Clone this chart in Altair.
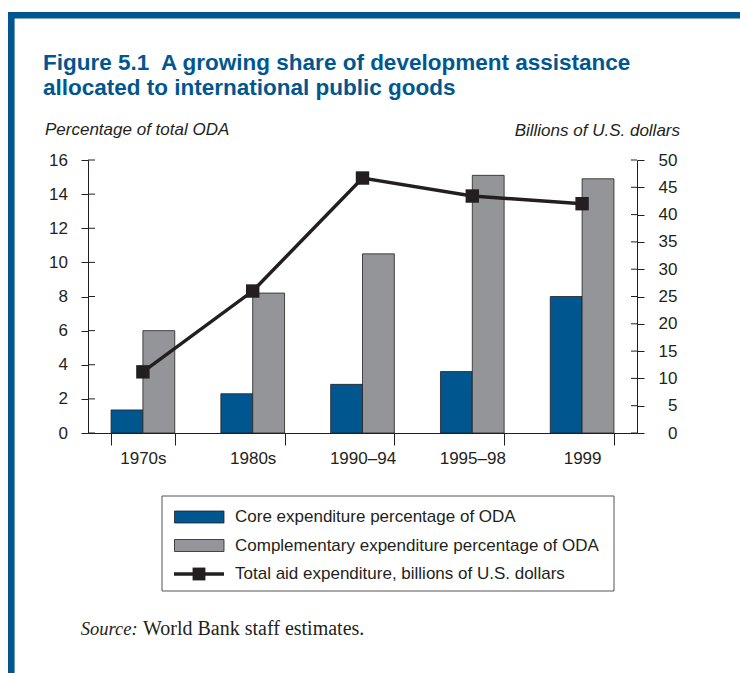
import altair as alt
import pandas as pd

# ---- data -------------------------------------------------------------
periods = ["1970s", "1980s", "1990–94", "1995–98", "1999"]
core_pct = [1.35, 2.3, 2.85, 3.6, 8.0]        # core expenditure, % of ODA
comp_pct = [6.0, 8.2, 10.5, 15.1, 14.9]       # complementary expenditure, % of ODA
total_bn = [11.2, 26.0, 46.7, 43.4, 42.0]     # total aid expenditure, US$ billions

series_names = [
    "Core expenditure percentage of ODA",
    "Complementary expenditure percentage of ODA",
]
line_name = "Total aid expenditure, billions of U.S. dollars"
left_ticks = list(range(0, 17, 2))
right_ticks = list(range(0, 51, 5))

title_lines = [
    "Figure 5.1\u00a0 A growing share of development assistance",
    "allocated to international public goods",
]
left_title = "Percentage of total ODA"
right_title = "Billions of U.S. dollars"

# ---- style ------------------------------------------------------------
W, H = 549, 273
BLUE = "#00578f"
GRAY = "#939598"
INK = "#231f20"
SANS = "Liberation Sans"
SERIF = "Liberation Serif"
FS = 17  # body text size

bars_df = pd.DataFrame({
    "period": periods * 2,
    "series": [series_names[0]] * len(periods) + [series_names[1]] * len(periods),
    "pct": core_pct + comp_pct,
})
line_df = pd.DataFrame({"period": periods, "total": total_bn})

x_enc = alt.X(
    "period:N", sort=periods, title=None,
    scale=alt.Scale(paddingInner=0.42, paddingOuter=0.21),
    axis=alt.Axis(tickBand="extent", tickSize=12, labelPadding=5, labelAngle=0),
)

left_axis = alt.Axis(values=left_ticks, orient="left", tickSize=7,
                     labelPadding=13.5, title=None)
right_axis = alt.Axis(values=right_ticks, orient="right", tickSize=7,
                      labelPadding=33, labelAlign="right", title=None)
left_scale = alt.Scale(domain=[0, 16], nice=False)
right_scale = alt.Scale(domain=[0, 50], nice=False)

bars = alt.Chart(bars_df).mark_bar(stroke=INK, strokeWidth=0.8).encode(
    x=x_enc,
    xOffset=alt.XOffset("series:N", sort=series_names),
    y=alt.Y("pct:Q", scale=left_scale, axis=left_axis),
    color=alt.Color("series:N", scale=alt.Scale(domain=series_names, range=[BLUE, GRAY]),
                    legend=None),
)

# inner half of the crossing ticks on the left axis
left_inner = alt.Chart(pd.DataFrame({"pct": left_ticks})).mark_rule(
    color=INK, strokeWidth=1
).encode(
    y=alt.Y("pct:Q", scale=left_scale, axis=left_axis),
    x=alt.value(0), x2=alt.value(7),
)

line = alt.Chart(line_df).mark_line(color=INK, strokeWidth=3.5).encode(
    x=x_enc,
    y=alt.Y("total:Q", scale=right_scale, axis=right_axis),
)
points = alt.Chart(line_df).mark_point(
    shape="square", filled=True, size=180, color=INK, opacity=1
).encode(
    x=x_enc,
    y=alt.Y("total:Q", scale=right_scale, axis=right_axis),
)
# inner half of the crossing ticks on the right axis
right_inner = alt.Chart(pd.DataFrame({"total": right_ticks})).mark_rule(
    color=INK, strokeWidth=1
).encode(
    y=alt.Y("total:Q", scale=right_scale, axis=right_axis),
    x=alt.value(W - 6), x2=alt.value(W),
)


def text(t, x, y, **kw):
    return alt.Chart(pd.DataFrame({"t": [t]})).mark_text(**kw).encode(
        text="t:N", x=alt.value(x), y=alt.value(y)
    )


def one_row():
    return alt.Chart(pd.DataFrame({"k": [0]}))


decor = []
# frame: blue rules along the top and left edge
decor.append(one_row().mark_rule(color=BLUE, strokeWidth=6.5).encode(
    x=alt.value(-80), x2=alt.value(652), y=alt.value(-144.8)))
decor.append(one_row().mark_rule(color=BLUE, strokeWidth=6.6).encode(
    x=alt.value(-76.7), y=alt.value(-148), y2=alt.value(513)))

# title
for i, t in enumerate(title_lines):
    decor.append(text(t, -45, -90 + 24.5 * i, align="left", baseline="alphabetic",
                      font=SANS, fontSize=22.5, fontWeight="bold", color=BLUE))

# axis titles
decor.append(text(left_title, -43, -25, align="left", baseline="alphabetic",
                  font=SANS, fontSize=FS, fontStyle="italic", color=INK))
decor.append(text(right_title, 592, -24, align="right", baseline="alphabetic",
                  font=SANS, fontSize=FS, fontStyle="italic", color=INK))

# legend box
decor.append(one_row().mark_rect(fill="white", stroke="#555555", strokeWidth=1).encode(
    x=alt.value(74), x2=alt.value(526), y=alt.value(336), y2=alt.value(431)))
for i, (name, col) in enumerate(zip(series_names, [BLUE, GRAY])):
    yc = 357 + 28.5 * i
    decor.append(one_row().mark_rect(fill=col, stroke=INK, strokeWidth=0.8).encode(
        x=alt.value(86.5), x2=alt.value(136), y=alt.value(yc - 6), y2=alt.value(yc + 6)))
    decor.append(text(name, 147, yc, align="left", baseline="middle",
                      font=SANS, fontSize=FS, color=INK))
yl = 357 + 28.5 * 2
decor.append(one_row().mark_rule(color=INK, strokeWidth=3.5).encode(
    x=alt.value(86), x2=alt.value(136), y=alt.value(yl)))
decor.append(one_row().mark_point(shape="square", filled=True, size=165,
                                  color=INK, opacity=1).encode(
    x=alt.value(111), y=alt.value(yl)))
decor.append(text(line_name, 147, yl, align="left", baseline="middle",
                  font=SANS, fontSize=FS, color=INK))

# source note
decor.append(text("Source:", -7.3, 475, align="left", baseline="alphabetic",
                  font=SERIF, fontSize=18.5, fontStyle="italic", color=INK))
decor.append(text("World Bank staff estimates.", 55, 475, align="left",
                  baseline="alphabetic", font=SERIF, fontSize=20, color=INK))

chart = alt.layer(
    alt.layer(bars, left_inner),
    alt.layer(line, points, right_inner),
    *decor,
).resolve_scale(y="independent").properties(
    width=W, height=H,
    padding={"left": 88, "top": 160, "right": 740 - 88 - W, "bottom": 673 - 160 - H},
    autosize=alt.AutoSizeParams(type="none"),
    background="white",
).configure_view(stroke=None).configure_axis(
    grid=False, domainColor=INK, domainWidth=1, tickColor=INK, tickWidth=1,
    labelColor=INK, labelFont=SANS, labelFontSize=FS,
)

chart.save("out.html", embed_options={"renderer": "svg", "actions": False})
